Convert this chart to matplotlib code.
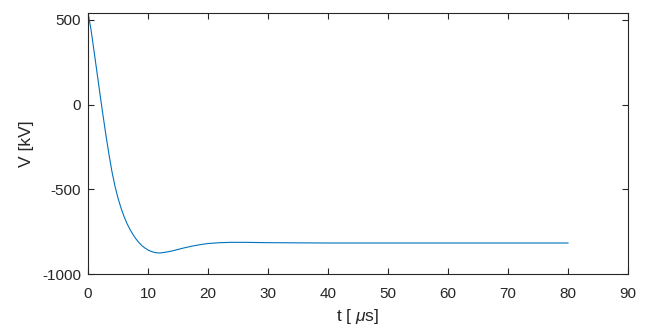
import matplotlib
matplotlib.use('Agg')
import matplotlib.pyplot as plt

plt.rcParams['font.family'] = ['Liberation Sans', 'DejaVu Sans']
plt.rcParams['mathtext.fontset'] = 'custom'
plt.rcParams['mathtext.rm'] = 'Liberation Sans'
plt.rcParams['mathtext.it'] = 'Liberation Sans:italic'
plt.rcParams['axes.unicode_minus'] = False

# values (t in us, V in kV)
t_us = [0, 0.5, 1.0, 1.5, 2.0, 2.5, 3.0, 3.5, 4.0, 4.5, 5.0, 5.5, 6.0, 6.5,
        7.0, 7.5, 8.0, 8.5, 9.0, 9.5, 10, 10.5, 11, 11.5, 12, 13, 14, 15, 16,
        17, 18, 19, 20, 22, 24, 26, 28, 30, 35, 40, 50, 60, 70, 80]
v_kv = [543, 443, 318, 190, 62, -63, -183, -295, -397, -482, -552, -610,
        -660, -702, -737, -767, -793, -815, -833, -847, -858, -866, -872,
        -875, -876, -871, -864, -855, -846, -838, -831, -825, -820, -815,
        -813, -813, -814, -815, -816, -817, -817, -817, -817, -817]

xticks = [0, 10, 20, 30, 40, 50, 60, 70, 80, 90]
yticks = [-1000, -500, 0, 500]

axcol = '#262626'

fig = plt.figure(figsize=(6.49, 3.30), dpi=100)
ax = fig.add_axes([88 / 649, 56 / 330, 540 / 649, 261.3 / 330])

ax.plot(t_us, v_kv, color='#0072BD', lw=0.8)

ax.set_xlim(0, 90)
ax.set_ylim(-1000, 543)
ax.set_xticks(xticks)
ax.set_yticks(yticks)

for s in ax.spines.values():
    s.set_color(axcol)
    s.set_linewidth(0.8)
ax.tick_params(direction='in', top=True, right=True, length=4, width=0.8,
               colors=axcol, labelsize=11, labelcolor=axcol)
ax.tick_params(axis='x', pad=9)
ax.tick_params(axis='y', pad=5)

ax.set_xlabel(r't [ $\mu$s]', fontsize=12.5, color=axcol, labelpad=5)
ax.set_ylabel('V [kV]', fontsize=12.5, color=axcol, labelpad=6)

fig.savefig('out.png', dpi=100)
